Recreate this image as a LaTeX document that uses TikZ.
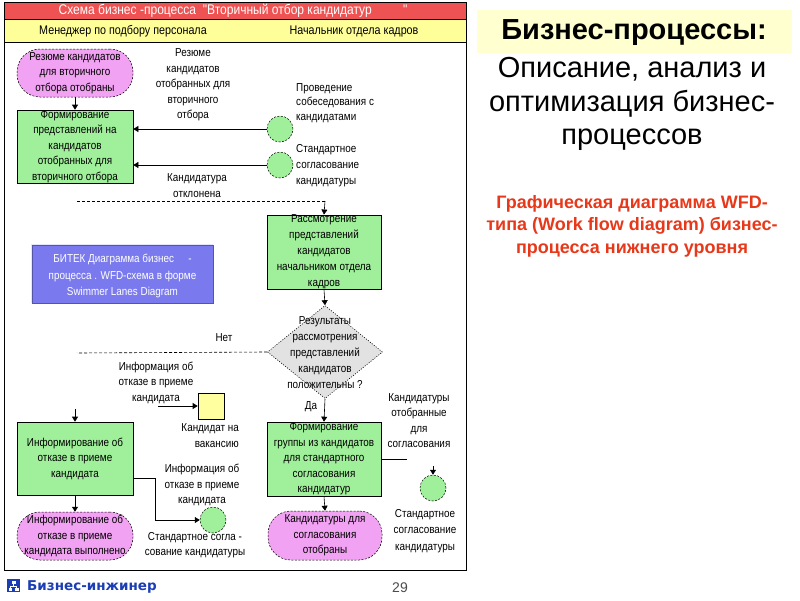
\documentclass[tikz,border=0pt]{standalone}
\usepackage{fontspec}
\setmainfont{Liberation Sans}
\newfontfamily\narrowf{Liberation Sans}[FakeStretch=0.86]
\newfontfamily\dejavu{DejaVu Sans}
\usetikzlibrary{arrows.meta,shapes.geometric}
\definecolor{gfill}{RGB}{160,240,155}
\definecolor{pfill}{RGB}{242,162,242}
\definecolor{redbar}{RGB}{238,82,82}
\definecolor{laneyellow}{RGB}{255,255,153}
\definecolor{sqyellow}{RGB}{255,255,160}
\definecolor{purp}{RGB}{122,122,238}
\definecolor{titlebg}{RGB}{255,255,208}
\definecolor{redtxt}{RGB}{232,56,26}
\definecolor{footblue}{RGB}{28,62,180}
\definecolor{diagray}{RGB}{226,226,226}
\tikzset{
  base/.style={font=\narrowf\fontsize{11.5}{15.5}\selectfont, align=center, inner sep=0pt},
  gbox/.style={base, draw, line width=0.6pt, fill=gfill, minimum width=116pt, minimum height=74pt},
  pcap/.style={base, draw, line width=0.5pt, dash pattern=on 2pt off 1.5pt, fill=pfill, rounded corners=23pt, minimum width=116pt, minimum height=48pt},
  circ/.style={circle, draw, line width=0.5pt, dash pattern=on 2pt off 1.5pt, fill=gfill, minimum size=26pt, inner sep=0pt},
  arr/.style={-{Triangle[length=5pt,width=6pt]}, line width=0.6pt},
  dline/.style={line width=0.6pt, dash pattern=on 3pt off 2pt},
}
\begin{document}
\begin{tikzpicture}[x=1pt,y=-1pt]
\useasboundingbox (0,0) rectangle (800,600);
\fill[white] (0,0) rectangle (800,600);

% frame and bands
\fill[redbar] (4,2) rectangle (466,19);
\fill[laneyellow] (4,19) rectangle (466,42);
\draw[line width=0.6pt] (4,19) -- (466,19);
\draw[line width=0.6pt] (4,42) -- (466,42);
\draw[line width=1pt] (4,2) rectangle (466,570);
\node[font=\narrowf\fontsize{14}{16}\selectfont, text=white, inner sep=0pt] (ttl) at (233,11) {Схема бизнес -процесса \ "Вторичный отбор кандидатур \qquad "};
\node[font=\narrowf\fontsize{12.5}{14}\selectfont, inner sep=0pt] (lane1) at (123,31) {Менеджер по подбору персонала};
\node[font=\narrowf\fontsize{12.5}{14}\selectfont, inner sep=0pt] (lane2) at (354,31) {Начальник отдела кадров};

% left column top
\node[pcap] (p1) at (75,73) {Резюме кандидатов\\для вторичного\\отбора отобраны};
\node[gbox, minimum height=73pt] (g1) at (75,146.5) {Формирование\\представлений на\\кандидатов\\отобранных для\\вторичного отбора};
\draw[arr] (p1.south) -- (g1.north);

\node[base] (t1) at (193,85) {Резюме\\кандидатов\\отобранных для\\вторичного\\отбора};

\node[circ] (c1) at (280,129) {};
\node[circ] (c2) at (280,165) {};
\node[base, align=left, anchor=west, font=\narrowf\fontsize{11.5}{14.5}\selectfont] (tc1) at (296,103) {Проведение\\собеседования с\\кандидатами};
\node[base, align=left, anchor=west, font=\narrowf\fontsize{11.5}{16}\selectfont] (tc2) at (296,166) {Стандартное\\согласование\\кандидатуры};
\draw[arr] (c1.west) -- (c1 -| g1.east);
\draw[arr] (c2.west) -- (c2 -| g1.east);
\node[base] (t2) at (197,185.5) {Кандидатура\\отклонена};

\coordinate (d1a) at (77,201);
\coordinate (d1b) at (325,201);
\draw[dline] (d1a) -- (d1b);

% right column
\node[gbox, minimum width=114pt, minimum height=74pt, font=\narrowf\fontsize{11.5}{16}\selectfont] (g2) at (324,252) {Рассмотрение\\представлений\\кандидатов\\начальником отдела\\кадров};
\draw[arr] (d1b) -- (g2.north);

\node[diamond, draw, line width=0.6pt, dash pattern=on 1pt off 1.5pt, fill=diagray, minimum width=115pt, minimum height=93pt, inner sep=0pt] (dia) at (325,352) {};
\node[base, font=\narrowf\fontsize{11.5}{16}\selectfont] (tdia) at (325,353) {Результаты\\рассмотрения\\представлений\\кандидатов\\положительны ?};
\draw[arr] (g2.south) -- (dia.north);

\node[base] (net) at (224,338) {Нет};
\coordinate (d2a) at (77,353);
\draw[dline] (dia.west) -- (d2a);
\node[base] (da) at (311,407) {Да};

\node[gbox, minimum width=114pt, minimum height=74pt] (g3) at (324,459) {Формирование\\группы из кандидатов\\для стандартного\\согласования\\кандидатур};
\draw[arr] (dia.south) -- (g3.north);
\node[pcap, minimum width=114pt, minimum height=49pt] (p3) at (325,535.5) {Кандидатуры для\\согласования\\отобраны};
\draw[arr] (g3.south) -- (p3.north);

\node[base] (t3) at (419,420.5) {Кандидатуры\\отобранные\\для\\согласования};
\coordinate (l3) at (407,459);
\draw[line width=0.6pt] (g3.east |- l3) -- (l3);
\node[circ] (c4) at (433,488) {};
\coordinate (a4) at (433,466);
\draw[arr] (a4) -- (c4.north);
\node[base, font=\narrowf\fontsize{11.5}{16.5}\selectfont] (t4) at (425,531) {Стандартное\\согласование\\кандидатуры};

% left column bottom
\node[base] (t5) at (156,382.5) {Информация об\\отказе в приеме\\кандидата};
\node[draw, line width=0.6pt, fill=sqyellow, minimum width=26pt, minimum height=26pt, inner sep=0pt] (ysq) at (211,406) {};
\coordinate (a5) at (158,406);
\draw[arr] (a5) -- (ysq.west);
\node[base, align=right, anchor=east] (t6) at (239,435.5) {Кандидат на\\вакансию};

\coordinate (a6) at (75,409);
\node[gbox, minimum height=73pt] (g4) at (75,458.5) {Информирование об\\отказе в приеме\\кандидата};
\draw[arr] (a6) -- (g4.north);
\node[pcap, minimum height=48pt] (p2) at (75,536) {Информирование об\\отказе в приеме\\кандидата выполнено};
\draw[arr] (g4.south) -- (p2.north);

\node[circ] (c3) at (213,520) {};
\coordinate (b1) at (155,478);
\draw[arr] (g4.east |- b1) -- (b1) |- (c3.west);
\node[base] (t7) at (202,485) {Информация об\\отказе в приеме\\кандидата};
\node[base] (t8) at (195,545) {Стандартное согла -\\сование кандидатуры};

% purple note
\node[draw=purp!70!black, line width=0.5pt, fill=purp, minimum width=181pt, minimum height=58pt, inner sep=0pt] (note) at (122.5,274) {};
\draw[white!80!purp, line width=1.2pt] (note.south west) -- (note.north west) -- (note.north east);
\node[base, text=white, font=\narrowf\fontsize{11.5}{16.5}\selectfont] (notet) at (122.5,276) {БИТЕК Диаграмма бизнес \quad -\\процесса . WFD-схема в форме\\Swimmer Lanes Diagram};

% footer
\fill[footblue] (7,579) rectangle (20,592);
\coordinate (ic) at (13.5,585.5);
\fill[white] (11.5,580.5) rectangle (15.5,583.5);
\fill[white] (8.5,588) rectangle (12,591);
\fill[white] (15,588) rectangle (18.5,591);
\draw[white, line width=0.7pt] (13.5,583.5) -- (13.5,586) (10.2,588) -- (10.2,586) -- (16.8,586) -- (16.8,588);
\node[font=\dejavu\bfseries\fontsize{13.5}{15}\selectfont, text=footblue, anchor=west, inner sep=0pt] (brand) at (27,587) {Бизнес-инжинер};
\node[font=\fontsize{14}{16}\selectfont, text=black!70, inner sep=0pt] (pg) at (400,588) {29};

% right side
\fill[titlebg] (477,10) rectangle (792,53);
\node[font=\bfseries\fontsize{29}{32}\selectfont, inner sep=0pt] (h1) at (634,33) {Бизнес-процессы:};
\node[font=\fontsize{29}{33.5}\selectfont, align=center, inner sep=0pt] (h2) at (632,104) {Описание, анализ и\\оптимизация бизнес-\\процессов};
\node[font=\bfseries\fontsize{18}{22.5}\selectfont, text=redtxt, align=center, inner sep=0pt] (h3) at (632,226) {Графическая диаграмма WFD-\\типа (Work flow diagram) бизнес-\\процесса нижнего уровня};
\end{tikzpicture}
\end{document}
